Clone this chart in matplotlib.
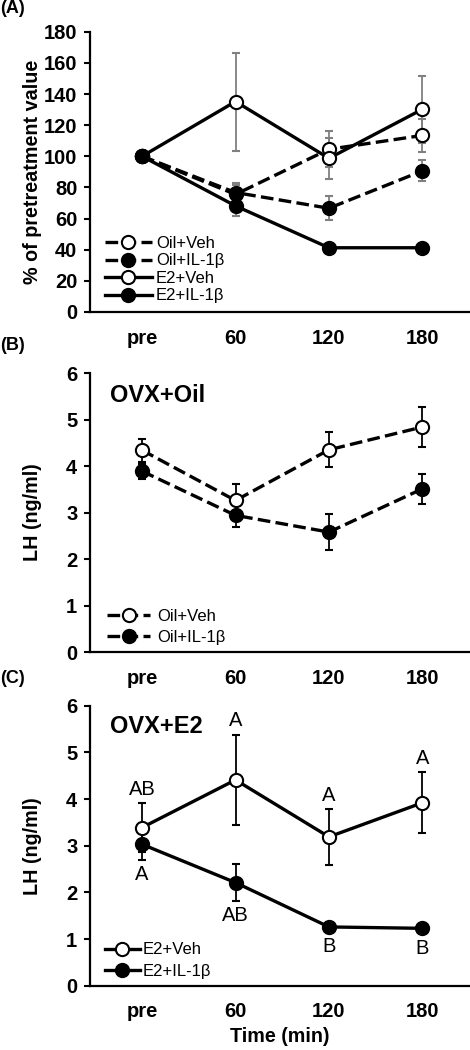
import matplotlib
matplotlib.use("Agg")
import matplotlib.pyplot as plt
from matplotlib.lines import Line2D

plt.rcParams['font.family'] = ['Liberation Sans', 'DejaVu Sans']

# x categories
times = ['pre', '60', '120', '180']
x = [0, 1, 2, 3]

# (A) % of pretreatment value
a_oil_veh = [100, 75.5, 104.5, 113.4]
a_oil_veh_err = [0, 6, 11.5, 10.5]
a_oil_il = [100, 76.7, 66.6, 90.6]
a_oil_il_err = [0, 6.4, 7.7, 6.7]
a_e2_veh = [100, 135.2, 98.7, 130.2]
a_e2_veh_err = [0, 31.5, 13, 21.5]
a_e2_il = [100, 68.1, 41.2, 41.2]
a_e2_il_err = [0, 6.2, 2, 2]

# (B) OVX+Oil, LH ng/ml
b_oil_veh = [4.34, 3.26, 4.35, 4.84]
b_oil_veh_err = [0.25, 0.35, 0.38, 0.42]
b_oil_il = [3.89, 2.94, 2.58, 3.51]
b_oil_il_err = [0.16, 0.24, 0.38, 0.32]

# (C) OVX+E2, LH ng/ml
c_e2_veh = [3.39, 4.41, 3.19, 3.92]
c_e2_veh_err = [0.52, 0.97, 0.6, 0.65]
c_e2_il = [3.03, 2.21, 1.26, 1.23]
c_e2_il_err = [0.33, 0.39, 0.1, 0.1]
c_letters_top = ['AB', 'A', 'A', 'A']
c_letters_bottom = ['A', 'AB', 'B', 'B']

fig = plt.figure(figsize=(4.7, 10.5), dpi=100)
axA = fig.add_axes([0.191, 0.703, 0.807, 0.2667])
axB = fig.add_axes([0.191, 0.379, 0.807, 0.2657])
axC = fig.add_axes([0.191, 0.0612, 0.807, 0.2667])

lw = 2.4
ms = 9.5
dash = (0, (3.8, 1.6))


def series(ax, y, err, filled, dashed, ecolor):
    ax.errorbar(x, y, yerr=err, color='black', lw=lw, ls=dash if dashed else '-',
                marker='o', ms=ms, mfc='black' if filled else 'white', mec='black',
                mew=1.5, ecolor=ecolor, elinewidth=1.3, capsize=3, capthick=1.3)


def handle(filled, dashed):
    return Line2D([], [], color='black', lw=lw, ls=dash if dashed else '-',
                  marker='o', ms=ms, mfc='black' if filled else 'white',
                  mec='black', mew=1.5)


def style(ax, ymax, step, ylabel):
    ax.set_xlim(-0.56, 3.5)
    ax.set_ylim(0, ymax)
    ax.set_yticks(range(0, ymax + 1, step))
    ax.set_xticks(x)
    ax.set_xticklabels(times)
    for s in ['top', 'right']:
        ax.spines[s].set_visible(False)
    for s in ['left', 'bottom']:
        ax.spines[s].set_linewidth(1.6)
    ax.tick_params(axis='y', direction='out', length=4, width=1.5, labelsize=14.5, pad=5)
    ax.tick_params(axis='x', length=0, labelsize=14.5, pad=12)
    for t in ax.get_xticklabels() + ax.get_yticklabels():
        t.set_fontweight('bold')
    ax.set_ylabel(ylabel, fontsize=14.2, fontweight='bold')
    ax.yaxis.set_label_coords(-0.125, 0.5)


# panel A
series(axA, a_oil_veh, a_oil_veh_err, False, True, 'gray')
series(axA, a_oil_il, a_oil_il_err, True, True, 'gray')
series(axA, a_e2_veh, a_e2_veh_err, False, False, 'gray')
series(axA, a_e2_il, a_e2_il_err, True, False, 'gray')
style(axA, 180, 20, '% of pretreatment value')
axA.legend([handle(False, True), handle(True, True), handle(False, False), handle(True, False)],
           ['Oil+Veh', 'Oil+IL-1β', 'E2+Veh', 'E2+IL-1β'],
           loc='lower left', bbox_to_anchor=(0.04, 0.03), frameon=False, fontsize=12,
           handlelength=2.8, handletextpad=0.25, labelspacing=0.15, borderpad=0,
           borderaxespad=0)

# panel B
series(axB, b_oil_veh, b_oil_veh_err, False, True, 'black')
series(axB, b_oil_il, b_oil_il_err, True, True, 'black')
style(axB, 6, 1, 'LH (ng/ml)')
axB.text(0.053, 0.92, 'OVX+Oil', transform=axB.transAxes, fontsize=17, fontweight='bold',
         va='center')
axB.legend([handle(False, True), handle(True, True)], ['Oil+Veh', 'Oil+IL-1β'],
           loc='lower left', bbox_to_anchor=(0.045, 0.025), frameon=False, fontsize=12,
           handlelength=2.6, handletextpad=0.4, labelspacing=0.38, borderpad=0,
           borderaxespad=0)

# panel C
series(axC, c_e2_veh, c_e2_veh_err, False, False, 'black')
series(axC, c_e2_il, c_e2_il_err, True, False, 'black')
style(axC, 6, 1, 'LH (ng/ml)')
axC.text(0.053, 0.925, 'OVX+E2', transform=axC.transAxes, fontsize=17, fontweight='bold',
         va='center')
axC.legend([handle(False, False), handle(True, False)], ['E2+Veh', 'E2+IL-1β'],
           loc='lower left', bbox_to_anchor=(0.04, 0.025), frameon=False, fontsize=12,
           handlelength=2.1, handletextpad=0.15, labelspacing=0.38, borderpad=0,
           borderaxespad=0)
for i in x:
    axC.annotate(c_letters_top[i], (i, c_e2_veh[i] + c_e2_veh_err[i]), xytext=(0, 3),
                 textcoords='offset points', ha='center', va='bottom', fontsize=14.5)
    axC.annotate(c_letters_bottom[i], (i, c_e2_il[i] - c_e2_il_err[i]), xytext=(0, -4),
                 textcoords='offset points', ha='center', va='top', fontsize=14.5)
axC.set_xlabel('Time (min)', fontsize=14.2, fontweight='bold', labelpad=4)

# panel labels
fig.text(0.0, 0.992, '(A)', fontsize=13, fontweight='bold', va='center')
fig.text(0.0, 0.6714, '(B)', fontsize=13, fontweight='bold', va='center')
fig.text(0.0, 0.354, '(C)', fontsize=13, fontweight='bold', va='center')

fig.savefig('out.png', dpi=100)
